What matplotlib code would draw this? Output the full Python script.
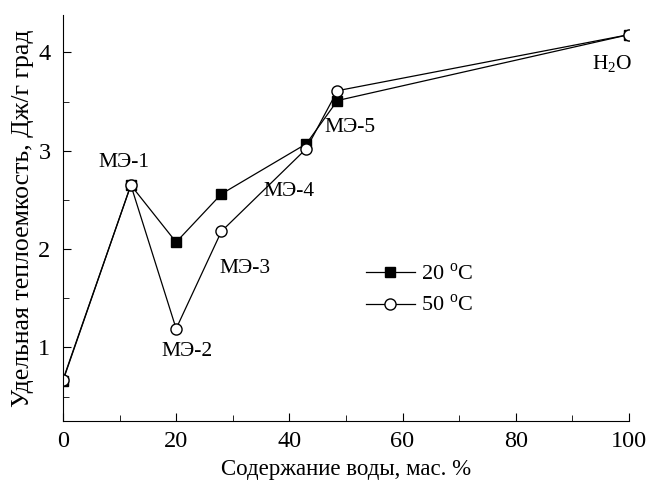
import numpy as np
import matplotlib.pyplot as plt
from matplotlib.ticker import MultipleLocator

plt.rcParams['font.family'] = ['Liberation Serif', 'DejaVu Serif']
plt.rcParams['mathtext.fontset'] = 'custom'
plt.rcParams['mathtext.rm'] = 'Liberation Serif'

# water content, mass %
water = [0, 12, 20, 28, 43, 48.5, 100]
# specific heat capacity, J/g K
cp_20 = [0.66, 2.65, 2.07, 2.56, 3.07, 3.51, 4.18]
cp_50 = [0.67, 2.65, 1.19, 2.18, 3.02, 3.61, 4.18]

labels = ['МЭ-1', 'МЭ-2', 'МЭ-3', 'МЭ-4', 'МЭ-5', 'H$_2$O']
label_x = [10.8, 22.0, 32.1, 40.0, 50.8, 97.0]
label_y = [2.88, 0.96, 1.80, 2.59, 3.24, 3.88]

fig = plt.figure(figsize=(6.49, 4.83), dpi=100)
ax = fig.add_axes([0.097, 0.128, 0.872, 0.841])

ax.plot(water, cp_20, '-s', color='black', lw=0.9, ms=7,
        mfc='black', label='20 $^\\mathrm{o}$C')
ax.plot(water, cp_50, '-o', color='black', lw=0.9, ms=8,
        mfc='white', label='50 $^\\mathrm{o}$C')

for t, x, y in zip(labels, label_x, label_y):
    ax.text(x, y, t, fontsize=15.5, ha='center', va='center')

ax.set_xlim(0, 100)
ax.set_ylim(0.25, 4.38)
ax.xaxis.set_major_locator(MultipleLocator(20))
ax.xaxis.set_minor_locator(MultipleLocator(10))
ax.yaxis.set_major_locator(MultipleLocator(1))
ax.yaxis.set_minor_locator(MultipleLocator(0.5))
ax.tick_params(which='both', direction='in', labelsize=17.5)
ax.tick_params(which='major', length=6)
ax.tick_params(which='minor', length=4)
ax.tick_params(axis='x', which='major', pad=7)
ax.tick_params(axis='y', which='major', pad=9)
ax.spines['top'].set_visible(False)
ax.spines['right'].set_visible(False)

ax.set_xlabel('Содержание воды, мас. %', fontsize=16.5, labelpad=5)
ax.set_ylabel('Удельная теплоемкость, Дж/г град', fontsize=18.5, labelpad=3)

ax.legend(loc='center', bbox_to_anchor=(0.63, 0.323), frameon=False,
          fontsize=16, handlelength=2.2, handletextpad=0.3, labelspacing=0.45)

fig.savefig('out.png', dpi=100)
